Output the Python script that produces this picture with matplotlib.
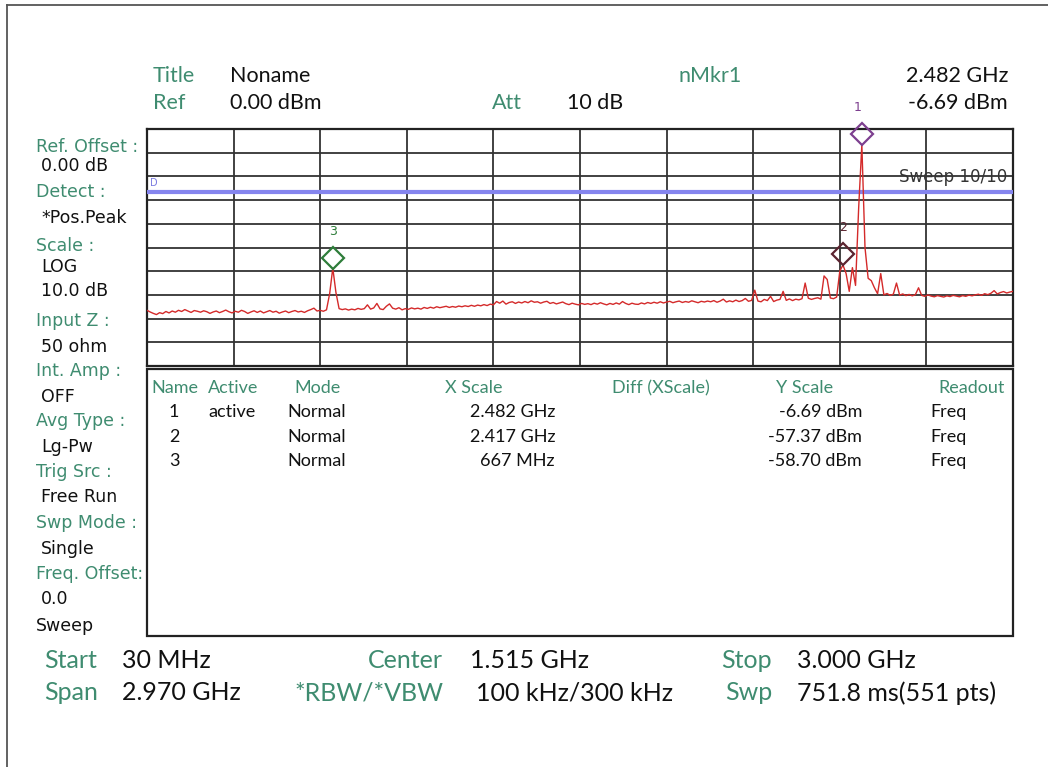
import numpy as np
import matplotlib
matplotlib.use('Agg')
import matplotlib.pyplot as plt
from matplotlib.transforms import offset_copy
from matplotlib.patches import Rectangle
from matplotlib.lines import Line2D

f_start, f_stop = 30.0, 3000.0          # MHz
ref_level, db_div = 0.0, 10.0
display_line = -26.5                    # dBm (linea "D")

# traccia: 276 punti (uno ogni due dei 551 punti dello sweep)
trace_dbm = [
    -76.5, -77.2, -77.8, -78.3, -77.5, -77.9, -77.0, -77.6, -76.8, -77.3, -76.5, -77.0, -76.2, -76.8, -77.4, -76.6, -76.9, -77.3, -76.7, -77.1,
    -77.8, -77.2, -76.8, -77.5, -77.0, -76.4, -77.1, -77.6, -76.9, -77.3, -76.5, -77.0, -77.8, -77.2, -76.7, -77.4, -76.8, -77.6, -77.1, -76.6,
    -77.3, -76.9, -77.7, -77.2, -76.8, -77.5, -77.0, -76.6, -77.2, -76.9, -77.4, -76.7, -76.2, -75.6, -76.8, -76.5, -76.9, -76.3, -69.5, -58.7,
    -69.0, -75.8, -76.2, -75.9, -76.4, -76.0, -76.3, -75.7, -76.1, -75.8, -74.2, -76.0, -75.5, -73.6, -75.9, -76.2, -74.8, -73.8, -75.6, -76.0,
    -75.4, -76.3, -75.8, -76.1, -75.5, -75.9, -75.6, -76.0, -75.3, -75.7, -75.2, -75.6, -75.0, -75.4, -75.1, -74.8, -75.3, -74.9, -75.2, -74.7,
    -75.0, -74.6, -74.9, -74.4, -74.8, -74.3, -74.6, -74.1, -74.5, -73.9, -74.2, -72.8, -73.5, -72.6, -73.9, -73.2, -72.9, -73.6, -73.0, -73.4,
    -72.8, -73.3, -72.5, -73.1, -72.9, -73.5, -73.0, -72.7, -73.6, -73.2, -73.8, -73.4, -73.0, -73.7, -74.1, -73.5, -73.9, -74.2, -73.6, -74.0,
    -73.7, -74.1, -73.5, -73.9, -73.3, -73.8, -74.2, -73.6, -74.0, -73.4, -73.9, -72.8, -73.6, -74.1, -73.5, -73.9, -74.0, -73.4, -73.8, -73.2,
    -73.6, -73.1, -73.5, -72.9, -73.4, -73.0, -72.7, -73.3, -72.9, -72.6, -73.2, -72.8, -73.1, -72.5, -72.9, -73.3, -72.7, -73.0, -72.6, -72.9,
    -72.4, -73.1, -72.6, -71.8, -73.0, -72.5, -72.9, -72.2, -72.8, -72.4, -71.5, -72.7, -72.3, -68.0, -72.6, -72.9, -71.9, -72.4, -70.6, -72.8,
    -72.2, -71.9, -68.5, -72.3, -71.7, -72.4, -71.8, -72.1, -71.6, -65.0, -71.4, -71.9, -71.5, -71.2, -71.8, -62.0, -63.5, -71.3, -71.6, -70.9,
    -60.0, -57.37, -61.0, -68.5, -58.5, -66.0, -33.0, -6.69, -50.0, -63.0, -64.0, -67.0, -69.5, -61.0, -70.0, -69.4, -70.2, -69.7, -65.0, -70.1,
    -69.6, -70.3, -69.8, -70.4, -69.9, -67.0, -70.2, -70.6, -70.0, -70.5, -70.8, -70.3, -70.6, -70.9, -70.4, -70.7, -70.2, -70.5, -70.8, -70.3,
    -70.6, -70.1, -70.4, -70.0, -69.7, -70.2, -69.5, -69.9, -69.3, -68.2, -69.6, -69.0, -68.6, -69.2, -68.8, -68.5,
]

# marker
mkr_names = ['1', '2', '3']
mkr_freq = [2482.0, 2417.0, 667.0]       # MHz
mkr_level = [-6.69, -57.37, -58.70]      # dBm
mkr_colors = ['#7d3f8f', '#5b2430', '#2e7d3a']

# tabella marker
tab_active = ['active', '', '']
tab_mode = ['Normal', 'Normal', 'Normal']
tab_xscale = ['2.482 GHz', '2.417 GHz', '667 MHz']
tab_yscale = ['-6.69 dBm', '-57.37 dBm', '-58.70 dBm']
tab_readout = ['Freq', 'Freq', 'Freq']

# pannello laterale
side_texts = ['Ref. Offset :', '0.00 dB', 'Detect :', '*Pos.Peak', 'Scale :', 'LOG', '10.0 dB',
              'Input Z :', '50 ohm', 'Int. Amp :', 'OFF', 'Avg Type :', 'Lg-Pw', 'Trig Src :',
              'Free Run', 'Swp Mode :', 'Single', 'Freq. Offset:', '0.0', 'Sweep']
side_is_label = [1, 0, 1, 0, 1, 0, 0, 1, 0, 1, 0, 1, 0, 1, 0, 1, 0, 1, 0, 0]
side_y = [147, 166, 192, 218, 246, 267, 291, 321, 347, 371, 397, 421, 447, 472, 497, 523, 549, 574, 599, 626]

W, H = 1048, 767
GREEN = '#3f8c70'
NARROW = ['Lato', 'DejaVu Sans']


def fx(x):
    return x / W


def fy(y):
    return 1 - y / H


fig = plt.figure(figsize=(W / 100, H / 100), dpi=100)
fig.patch.set_facecolor('white')

# cornice esterna (solo alto e sinistra visibili)
fig.add_artist(Line2D([fx(7), 1], [fy(5), fy(5)], color='#555555', lw=1.3))
fig.add_artist(Line2D([fx(7), fx(7)], [fy(5), 0], color='#555555', lw=1.3))

# --- area grafico ---
ax = fig.add_axes([fx(147), fy(366), fx(1013) - fx(147), fy(129) - fy(366)])
freqs = np.linspace(f_start, f_stop, len(trace_dbm))
ax.set_xlim(f_start, f_stop)
ax.set_ylim(ref_level - 10 * db_div, ref_level)
ax.set_xticks(np.linspace(f_start, f_stop, 11))
ax.set_yticks(np.linspace(ref_level - 10 * db_div, ref_level, 11))
ax.tick_params(length=0, labelbottom=False, labelleft=False)
ax.grid(True, color='#333333', lw=1.3)
for s in ax.spines.values():
    s.set_color('#222222')
    s.set_linewidth(1.6)

ax.axhline(display_line, color='#8585ee', lw=3, zorder=3)
ax.text(0.004, display_line + 1.5, 'D', color='#7a7ae0', fontsize=7, transform=ax.get_yaxis_transform(),
        va='bottom', ha='left')
ax.text(0.993, -20.3, 'Sweep 10/10', color='#333333', fontsize=12, ha='right', va='center',
        transform=ax.get_yaxis_transform(), zorder=4)

ax.plot(freqs, trace_dbm, color='#d42a2a', lw=1.0, zorder=4)

# marker: rombo sopra il picco ed etichetta
tr_mkr = offset_copy(ax.transData, fig=fig, y=10.5, units='dots')
tr_lab = offset_copy(ax.transData, fig=fig, y=37, units='dots')
for name, f, lev, c in zip(mkr_names, mkr_freq, mkr_level, mkr_colors):
    ax.plot([f], [lev], marker='D', ms=11, mfc='none', mec=c, mew=1.6, transform=tr_mkr,
            clip_on=False, zorder=6)
    ax.text(f - (14 if name == '1' else 0), lev, name, color=c, fontsize=9, ha='center', va='center',
            transform=tr_lab, clip_on=False, zorder=6)

# --- intestazione ---
hk = dict(fontsize=15.5, va='center', family=NARROW)
fig.text(fx(153), fy(76), 'Title', color=GREEN, **hk)
fig.text(fx(230), fy(76), 'Noname', color='#111111', **hk)
fig.text(fx(678), fy(76), 'nMkr1', color=GREEN, **hk)
fig.text(fx(1008), fy(76), '%.3f GHz' % (mkr_freq[0] / 1000), color='#111111', ha='right', **hk)
fig.text(fx(153), fy(103), 'Ref', color=GREEN, **hk)
fig.text(fx(230), fy(103), '%.2f dBm' % ref_level, color='#111111', **hk)
fig.text(fx(492), fy(103), 'Att', color=GREEN, **hk)
fig.text(fx(567), fy(103), '10 dB', color='#111111', **hk)
fig.text(fx(1008), fy(103), '%.2f dBm' % mkr_level[0], color='#111111', ha='right', **hk)

# --- pannello laterale ---
for t, lab, y in zip(side_texts, side_is_label, side_y):
    x = 36 if (lab or t == 'Sweep') else 41
    fig.text(fx(x), fy(y), t, color=GREEN if lab else '#111111', fontsize=12.5, va='center')

# --- tabella marker ---
fig.add_artist(Rectangle((fx(147), fy(636)), fx(1013) - fx(147), fy(369) - fy(636),
                         fill=False, ec='#222222', lw=1.6, transform=fig.transFigure))
head = [('Name', 151), ('Active', 208), ('Mode', 294), ('X Scale', 445), ('Diff (XScale)', 612),
        ('Y Scale', 776), ('Readout', 938)]
for t, x in head:
    fig.text(fx(x), fy(388), t, color=GREEN, fontsize=13, va='center', family=NARROW)
row_y = [412, 437, 461]
for i, y in enumerate(row_y):
    kw = dict(color='#111111', fontsize=13, va='center', family=NARROW)
    fig.text(fx(174), fy(y), mkr_names[i], ha='center', **kw)
    fig.text(fx(208), fy(y), tab_active[i], **kw)
    fig.text(fx(287), fy(y), tab_mode[i], **kw)
    fig.text(fx(555), fy(y), tab_xscale[i], ha='right', **kw)
    fig.text(fx(862), fy(y), tab_yscale[i], ha='right', **kw)
    fig.text(fx(948), fy(y), tab_readout[i], ha='center', **kw)

# --- parametri in basso ---
bk = dict(fontsize=18, va='center', family=NARROW)
fig.text(fx(44), fy(661), 'Start', color=GREEN, **bk)
fig.text(fx(122), fy(661), '%d MHz' % f_start, color='#111111', **bk)
fig.text(fx(443), fy(661), 'Center', color=GREEN, ha='right', **bk)
fig.text(fx(470), fy(661), '%.3f GHz' % ((f_start + f_stop) / 2000), color='#111111', **bk)
fig.text(fx(772), fy(661), 'Stop', color=GREEN, ha='right', **bk)
fig.text(fx(797), fy(661), '%.3f GHz' % (f_stop / 1000), color='#111111', **bk)
fig.text(fx(44), fy(693), 'Span', color=GREEN, **bk)
fig.text(fx(122), fy(693), '%.3f GHz' % ((f_stop - f_start) / 1000), color='#111111', **bk)
fig.text(fx(443), fy(693), '*RBW/*VBW', color=GREEN, ha='right', **bk)
fig.text(fx(476), fy(693), '100 kHz/300 kHz', color='#111111', **bk)
fig.text(fx(772), fy(693), 'Swp', color=GREEN, ha='right', **bk)
fig.text(fx(797), fy(693), '751.8 ms(551 pts)', color='#111111', **bk)

fig.savefig('out.png', dpi=100)
